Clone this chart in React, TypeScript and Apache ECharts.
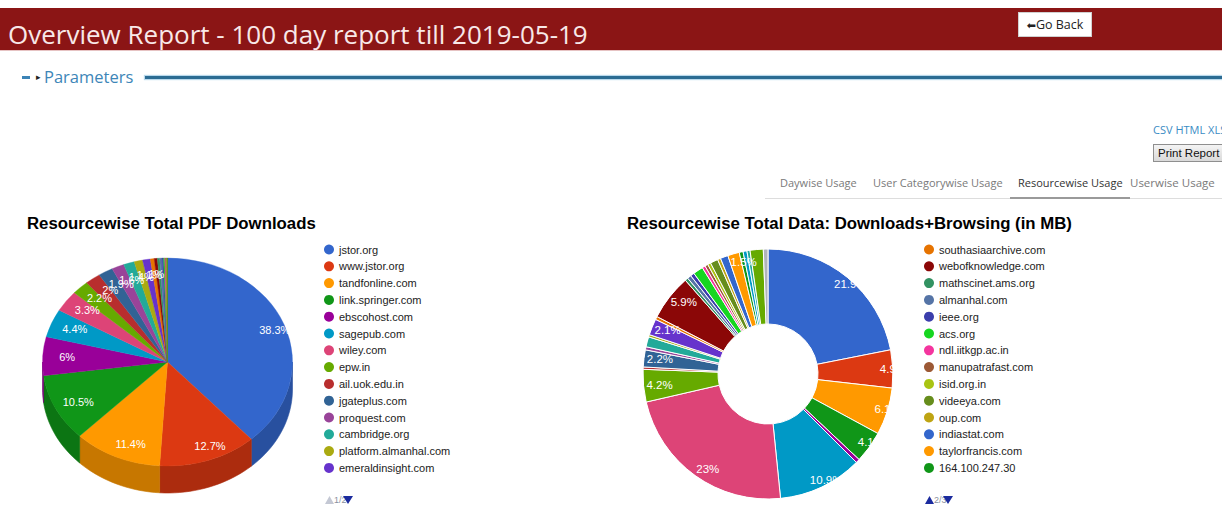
import React, { useEffect, useRef } from "react";
import * as echarts from "echarts";

// ---------- data ----------
const resources = [
  "jstor.org", "www.jstor.org", "tandfonline.com", "link.springer.com", "ebscohost.com",
  "sagepub.com", "wiley.com", "epw.in", "ail.uok.edu.in", "jgateplus.com",
  "proquest.com", "cambridge.org", "platform.almanhal.com", "emeraldinsight.com",
  "southasiaarchive.com", "webofknowledge.com", "mathscinet.ams.org", "almanhal.com",
  "ieee.org", "acs.org", "ndl.iitkgp.ac.in", "manupatrafast.com", "isid.org.in",
  "videeya.com", "oup.com", "indiastat.com", "taylorfrancis.com", "164.100.247.30",
];
const moreResources = ["sciencedirect.com", "springerlink.com", "nature.com", "muse.jhu.edu"];

// share (%) of PDF downloads, same order as resources
const pdfDownloads = [
  38.3, 12.7, 11.4, 10.5, 6.0, 4.4, 3.3, 2.2, 2.0, 1.9, 1.6, 1.4, 1.1, 1.0,
  0.5, 0.4, 0.3, 0.3, 0.2, 0.15, 0.1, 0.1, 0.05, 0.05, 0.02, 0.01, 0.01, 0.01,
];
// share (%) of downloads+browsing data, resources then moreResources
const dataMB = [
  21.9, 4.9, 6.1, 4.1, 0.5, 10.9, 23.0, 4.2, 0.3, 2.2, 0.4, 1.3, 0.3, 2.1,
  0.4, 5.9, 0.4, 0.5, 0.5, 1.3, 0.4, 0.4, 0.4, 1.0, 0.4, 1.0, 1.5, 0.5,
  0.5, 0.4, 1.7, 0.6,
];
const sliceColors = [
  "#3366cc", "#dc3912", "#ff9900", "#109618", "#990099", "#0099c6", "#dd4477",
  "#66aa00", "#b82e2e", "#316395", "#994499", "#22aa99", "#aaaa11", "#6633cc",
  "#e67300", "#8b0707", "#329262", "#5574a6", "#3b3eac", "#16d620", "#f4359e",
  "#9c5935", "#a9c413", "#668d1c", "#bea413", "#3366cc", "#ff9900", "#109618",
  "#0099c6", "#22aa99", "#66aa00", "#b0b4bc",
];
const tabLabels = ["Daywise Usage", "User Categorywise Usage", "Resourcewise Usage", "Userwise Usage"];
const chartTitles = ["Resourcewise Total PDF Downloads", "Resourcewise Total Data: Downloads+Browsing (in MB)"];
const legendPageSize = 14;
const leftLegendPage = 1;
const rightLegendPage = 2;

// ---------- helpers ----------
function fmtPct(v: number, total: number) {
  return Math.round((v / total) * 1000) / 10 + "%";
}
function darken(hex: string, f: number) {
  const n = parseInt(hex.slice(1), 16);
  const r = Math.round(((n >> 16) & 255) * f);
  const g = Math.round(((n >> 8) & 255) * f);
  const b = Math.round((n & 255) * f);
  return "rgb(" + r + "," + g + "," + b + ")";
}

function pager(x: number, y: number, page: number, pages: number) {
  const on = "#1b2b9e";
  const off = "#c4c8d4";
  return {
    type: "group", x, y, z: 10, silent: true,
    children: [
      { type: "polygon", shape: { points: [[0, 4], [9, 4], [4.5, -4]] }, style: { fill: page > 1 ? on : off } },
      {
        type: "text", x: 9, y: 0,
        style: { text: page + "/" + pages, fill: "#8a8fa0", font: "9px Arial, 'Liberation Sans'", verticalAlign: "middle", align: "left" },
      },
      { type: "polygon", shape: { points: [[18, -4], [28, -4], [23, 4]] }, style: { fill: page < pages ? on : off } },
    ],
  };
}

export default function App() {
  const ref = useRef<HTMLDivElement>(null);

  useEffect(() => {
    const chart = echarts.init(ref.current!, null, { renderer: "svg" });

    const rightNames = resources.concat(moreResources);
    const pdfTotal = pdfDownloads.reduce((a, b) => a + b, 0);
    const dataTotal = dataMB.reduce((a, b) => a + b, 0);
    const cum: number[] = [0];
    pdfDownloads.forEach((v, i) => cum.push(cum[i] + v));

    // 3D pie geometry
    const CX = 167.5, CY = 362, RX = 125, RY = 104, DEPTH = 27, LF = 0.86, LSHIFT = 7;
    // donut geometry
    const DX = 768, DY = 374, DR0 = 50, DR = 125;

    const leftPieData = resources.map((n, i) => ({ name: n, value: pdfDownloads[i], itemStyle: { color: sliceColors[i] } }));
    const rightPieData = rightNames.map((n, i) => ({ name: n, value: dataMB[i], itemStyle: { color: sliceColors[i] } }));

    const renderItem = (params: any) => {
      const i = params.dataIndex;
      const s = -Math.PI / 2 + (cum[i] / pdfTotal) * Math.PI * 2;
      const e = -Math.PI / 2 + (cum[i + 1] / pdfTotal) * Math.PI * 2;
      const color = sliceColors[i];
      const children: any[] = [];
      const a = Math.max(s, 0);
      const b = Math.min(e, Math.PI);
      if (b > a) {
        const pts: number[][] = [];
        const n = Math.max(2, Math.ceil((b - a) / 0.04));
        for (let k = 0; k <= n; k++) {
          const t = a + ((b - a) * k) / n;
          pts.push([CX + RX * Math.cos(t), CY + RY * Math.sin(t)]);
        }
        for (let k = n; k >= 0; k--) {
          const t = a + ((b - a) * k) / n;
          pts.push([CX + RX * Math.cos(t), CY + RY * Math.sin(t) + DEPTH]);
        }
        const dc = darken(color, 0.78);
        children.push({ type: "polygon", z2: 0, shape: { points: pts }, style: { fill: dc, stroke: dc, lineWidth: 0.6 } });
      }
      children.push({
        type: "sector", z2: 1, x: CX, y: CY, scaleY: RY / RX,
        shape: { cx: 0, cy: 0, r0: 0, r: RX, startAngle: s, endAngle: e, clockwise: true },
        style: { fill: color, stroke: color, lineWidth: 0.4 },
      });
      const v = pdfDownloads[i];
      if ((v / pdfTotal) * 100 >= 0.95) {
        const m = (s + e) / 2;
        children.push({
          type: "text", z2: 10,
          style: {
            text: fmtPct(v, pdfTotal),
            x: CX + LSHIFT + RX * LF * Math.cos(m), y: CY + RY * LF * Math.sin(m),
            fill: "#ffffff", font: "11px Arial, 'Liberation Sans'",
            align: "center", verticalAlign: "middle",
            textAlign: "center", textVerticalAlign: "middle",
          },
        });
      }
      return { type: "group", children };
    };

    const legendCommon = {
      type: "plain", orient: "vertical", top: 244, padding: 0,
      itemWidth: 10, itemHeight: 10, itemGap: 5.8, icon: "circle", z: 10,
      selectedMode: false,
      textStyle: { fontSize: 11, color: "#222", fontFamily: "Arial, 'Liberation Sans'" },
    };
    const leftPages = Math.ceil(resources.length / legendPageSize);
    const rightPages = Math.ceil(rightNames.length / legendPageSize);
    const leftStart = (leftLegendPage - 1) * legendPageSize;
    const rightStart = (rightLegendPage - 1) * legendPageSize;

    chart.setOption({
      animation: false,
      title: [
        { text: chartTitles[0], left: 27, top: 215, padding: 0, z: 10, textStyle: { fontFamily: "Arial, 'Liberation Sans'", fontWeight: "bold", fontSize: 16.8, color: "#000" } },
        { text: chartTitles[1], left: 627, top: 215, padding: 0, z: 10, textStyle: { fontFamily: "Arial, 'Liberation Sans'", fontWeight: "bold", fontSize: 16.8, color: "#000" } },
      ],
      legend: [
        { ...legendCommon, left: 324, data: resources.slice(leftStart, leftStart + legendPageSize) },
        { ...legendCommon, left: 924, data: rightNames.slice(rightStart, rightStart + legendPageSize) },
      ],
      graphic: [
        { type: "ring", silent: true, z: 5, shape: { cx: DX, cy: DY, r0: DR, r: DR + 32 }, style: { fill: "#ffffff" } },
        pager(325, 500, leftLegendPage, leftPages),
        pager(925, 500, rightLegendPage, rightPages),
      ],
      series: [
        {
          type: "pie", name: "pdf-legend", silent: true, center: [CX, CY], radius: [0, 0.01],
          label: { show: false }, labelLine: { show: false }, data: leftPieData,
        },
        {
          type: "custom", name: "pdf", coordinateSystem: "none", silent: true, z: 2,
          data: pdfDownloads, renderItem,
        },
        {
          type: "pie", name: "data", silent: true, center: [DX, DY], radius: [DR0, DR],
          startAngle: 90, clockwise: true, avoidLabelOverlap: false,
          itemStyle: { borderColor: "#ffffff", borderWidth: 1 },
          label: { show: false }, labelLine: { show: false }, data: rightPieData,
        },
        {
          type: "pie", name: "data-labels", silent: true, center: [DX + 8, DY], radius: [103, 125],
          startAngle: 90, clockwise: true, avoidLabelOverlap: false,
          itemStyle: { color: "rgba(0,0,0,0)", borderWidth: 0 },
          labelLine: { show: false },
          label: {
            show: true, position: "inside", color: "#ffffff", fontSize: 11.5,
            fontFamily: "Arial, 'Liberation Sans'",
            formatter: (p: any) => ((p.value / dataTotal) * 100 >= 1.35 ? fmtPct(p.value, dataTotal) : ""),
          },
          data: rightNames.map((n, i) => ({ name: n, value: dataMB[i] })),
        },
      ],
    });

    return () => chart.dispose();
  }, []);

  const tabX = [780, 873, 1018, 1130];

  return (
    <div style={{ position: "absolute", left: 0, top: 0, width: 1222, height: 505, overflow: "hidden", background: "#fff", fontFamily: "'Open Sans', sans-serif" }}>
      <div ref={ref} style={{ position: "absolute", left: 0, top: 0, width: 1222, height: 505 }} />
      {/* header */}
      <div style={{ position: "absolute", left: 0, top: 8, width: 1222, height: 42, background: "#8b1515" }} />
      <div style={{ position: "absolute", left: 0, top: 50, width: 1222, height: 1, background: "#e6c3c3" }} />
      <div style={{ position: "absolute", left: 8, top: 16, fontSize: 26, lineHeight: "36px", color: "#f8e8e8", whiteSpace: "nowrap" }}>
        Overview Report - 100 day report till 2019-05-19
      </div>
      <div style={{ position: "absolute", left: 1018, top: 12, width: 74, height: 25, background: "#fff", border: "1px solid #d0d0d0", boxSizing: "border-box", fontSize: 12.5, lineHeight: "23px", color: "#222", textAlign: "center", whiteSpace: "nowrap" }}>
        <span style={{ fontFamily: "'DejaVu Sans'", fontSize: 11 }}>⬅</span>Go Back
      </div>
      {/* parameters */}
      <div style={{ position: "absolute", left: 22, top: 76, width: 8, height: 3, background: "#3c84b6" }} />
      <div style={{ position: "absolute", left: 36, top: 69, fontSize: 9, lineHeight: "16px", color: "#222" }}>▸</div>
      <div style={{ position: "absolute", left: 44, top: 66, fontSize: 16.5, lineHeight: "22px", color: "#3d86b8", whiteSpace: "nowrap" }}>Parameters</div>
      <div style={{ position: "absolute", left: 145, top: 76, width: 1077, height: 3, background: "#2c6c93", boxShadow: "0 0 1px 1px #b9d9ec" }} />
      {/* export links */}
      <div style={{ position: "absolute", left: 1153, top: 122, fontSize: 11, lineHeight: "16px", color: "#3a8cc4", whiteSpace: "nowrap" }}>CSV HTML XLS</div>
      <div style={{ position: "absolute", left: 1153, top: 144, width: 74, height: 18, boxSizing: "border-box", border: "1px solid #8f8f8f", background: "linear-gradient(#f4f4f4,#d9d9d9)", fontFamily: "Arial, 'Liberation Sans'", fontSize: 11.5, lineHeight: "16px", color: "#111", paddingLeft: 4, whiteSpace: "nowrap" }}>Print Report</div>
      {/* tabs */}
      <div style={{ position: "absolute", left: 765, top: 198, width: 457, height: 1, background: "#dddddd" }} />
      <div style={{ position: "absolute", left: 1010, top: 197, width: 120, height: 2, background: "#9a9a9a" }} />
      {tabLabels.map((t, i) => (
        <div key={t} style={{ position: "absolute", left: tabX[i], top: 174, fontSize: i === 3 ? 11.5 : 11, lineHeight: "17px", color: i === 2 ? "#333" : "#7a7a7a", whiteSpace: "nowrap" }}>{t}</div>
      ))}
    </div>
  );
}
